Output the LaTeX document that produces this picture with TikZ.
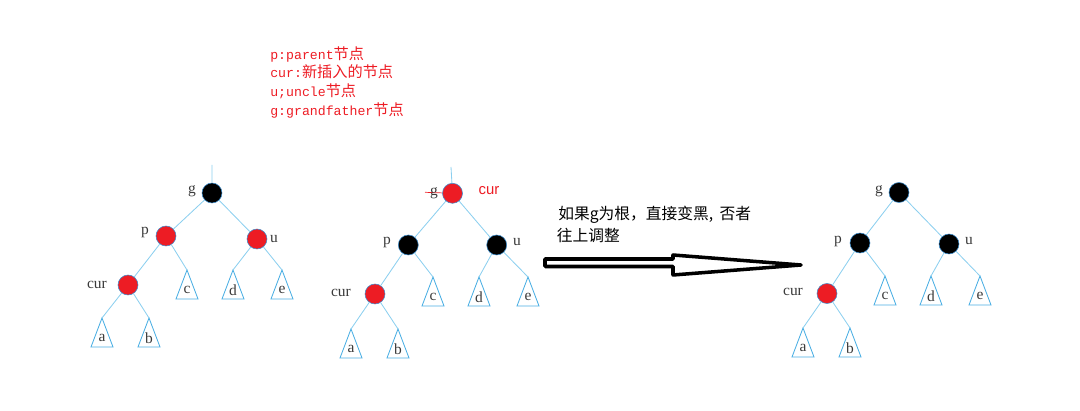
\documentclass[tikz,border=0pt]{standalone}
\usepackage{fontspec}
\setmainfont{Liberation Serif}
\newfontfamily\cjk{Noto Sans CJK SC}
\newfontfamily\monof{Liberation Mono}
\newfontfamily\sansf{Liberation Sans}
\usetikzlibrary{calc}
\definecolor{Red}{HTML}{ED1C24}
\definecolor{Edge}{HTML}{8CCFEF}
\definecolor{Tri}{HTML}{4AAEE3}
\definecolor{Rim}{HTML}{3C8DCC}
\definecolor{Ink}{HTML}{3A3A3A}
\newcommand\zh[1]{{\cjk\fontsize{10.8}{13}\selectfont #1}}

\begin{document}
\begin{tikzpicture}[x=0.025cm,y=-0.025cm,
    rb/.style={circle,draw=Rim,line width=.4pt,minimum size=.5cm,inner sep=0pt},
    redn/.style={rb,fill=Red},blkn/.style={rb,fill=black},
    edge/.style={draw=Edge,line width=.6pt},
    tri/.style={draw=Tri,line width=.6pt},
    lbl/.style={text=Ink,font=\fontsize{11}{13}\selectfont,inner sep=0pt},
    leg/.style={text=Red,font=\monof\fontsize{9.4}{12}\selectfont,inner sep=0pt,anchor=base west},
    note/.style={inner sep=0pt,anchor=base west,font=\cjk\fontsize{11.2}{13}\selectfont}]
  \useasboundingbox (0,0) rectangle (1080,411);
  % legend
  \node[leg] (leg1) at (270,59.3) {p:parent\zh{节点}};
  \node[leg] (leg2) at (270,78) {cur:\zh{新插入的节点}};
  \node[leg] (leg3) at (270,96.7) {u;uncle\zh{节点}};
  \node[leg] (leg4) at (270,115.3) {g:grandfather\zh{节点}};
  % tree 1
  \coordinate (r1) at (212,165);
  \node[blkn] (g1) at (212,193) {};
  \node[redn] (p1) at (166,236) {};
  \node[redn] (u1) at (257,239) {};
  \node[redn] (c1) at (128,285) {};
  \node[lbl] (g1l) at (192,191) {g};
  \node[lbl] (p1l) at (145,233) {p};
  \node[lbl] (u1l) at (274,239) {u};
  \node[lbl] (c1l) at (97,285) {cur};
  \foreach \n/\x/\y in {a/102/318,b/149/318,c/187/270,d/233/270,e/282/270}{
    \coordinate (t1\n) at (\x,\y);
    \draw[tri] (t1\n) -- ++(-11,29) -- ++(22,0) -- cycle;
    \node[lbl] (t1\n l) at (\x,{\y+20}) {\n};
  }
  \draw[edge] (r1)--(g1) (g1)--(p1) (g1)--(u1) (p1)--(c1) (p1)--(t1c) (u1)--(t1d) (u1)--(t1e) (c1)--(t1a) (c1)--(t1b);
  % tree 2
  \coordinate (r2) at (451,167);
  \node[redn] (g2) at (452.5,193.3) {};
  \node[blkn] (p2) at (408.3,245) {};
  \node[blkn] (u2) at (496.7,245) {};
  \node[redn] (c2) at (375,294) {};
  \coordinate (s2) at (425,192.3);
  \draw[Red,line width=.5pt] (s2)--(g2);
  \node[lbl] (g2l) at (434,193) {g};
  \node[lbl] (p2l) at (387,243) {p};
  \node[lbl] (u2l) at (517,242) {u};
  \node[lbl] (c2l) at (341,293) {cur};
  \node[text=Red,font=\sansf\fontsize{10.6}{12}\selectfont,inner sep=0pt] (cur2) at (489,191) {cur};
  \foreach \n/\x/\y in {a/351/329,b/398/329,c/433/277,d/479/277,e/528/277}{
    \coordinate (t2\n) at (\x,\y);
    \draw[tri] (t2\n) -- ++(-11,29) -- ++(22,0) -- cycle;
    \node[lbl] (t2\n l) at (\x,{\y+20}) {\n};
  }
  \draw[edge] (r2)--(g2) (g2)--(p2) (g2)--(u2) (p2)--(c2) (p2)--(t2c) (u2)--(t2d) (u2)--(t2e) (c2)--(t2a) (c2)--(t2b);
  % note and arrow
  \node[note] (note1) at (558,220) {如果g为根，直接变黑,\hspace{.4em}否者};
  \node[note] (note2) at (556.5,241.5) {往上调整};
  \draw[line width=2.5pt,line join=round,fill=white] (545,259) -- (673,259) -- (673,255) -- (801,265) -- (673,275) -- (673,266.5) -- (545,266.5) -- cycle;
  % tree 3
  \node[blkn] (g3) at (899,192.5) {};
  \node[blkn] (p3) at (860,243) {};
  \node[blkn] (u3) at (949,244) {};
  \node[redn] (c3) at (827,293.5) {};
  \node[lbl] (g3l) at (879,191) {g};
  \node[lbl] (p3l) at (838,242) {p};
  \node[lbl] (u3l) at (969,241) {u};
  \node[lbl] (c3l) at (793,292) {cur};
  \foreach \n/\x/\y in {a/803/328,b/850/328,c/885/276,d/931/276,e/980/276}{
    \coordinate (t3\n) at (\x,\y);
    \draw[tri] (t3\n) -- ++(-11,29) -- ++(22,0) -- cycle;
    \node[lbl] (t3\n l) at (\x,{\y+20}) {\n};
  }
  \draw[edge] (g3)--(p3) (g3)--(u3) (p3)--(c3) (p3)--(t3c) (u3)--(t3d) (u3)--(t3e) (c3)--(t3a) (c3)--(t3b);
\end{tikzpicture}
\end{document}
